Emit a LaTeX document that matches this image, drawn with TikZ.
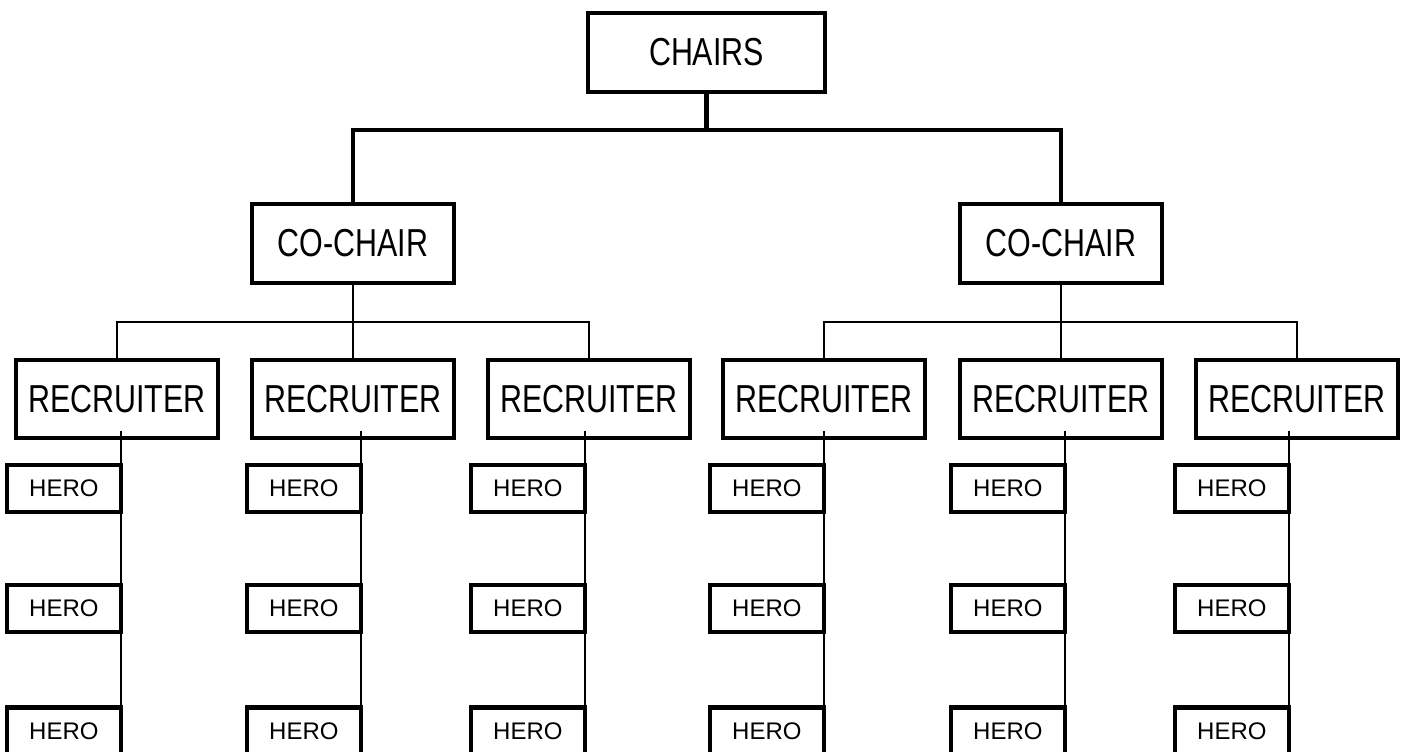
\documentclass[tikz,border=0pt]{standalone}
\usepackage{fontspec}
\setmainfont{Liberation Sans}
\newfontfamily\narrowfont[FakeStretch=0.78]{Liberation Sans}
\usepackage{tikz}

\begin{document}
\begin{tikzpicture}[x=0.5pt,y=-0.5pt,
  bigbox/.style={draw,line width=2.4pt,minimum width=101pt,minimum height=39.5pt,inner sep=0pt,font=\narrowfont\fontsize{19.5}{23}\selectfont},
  herobox/.style={draw,line width=2.1pt,minimum width=57pt,minimum height=23.5pt,inner sep=0pt,anchor=east,font=\fontsize{12}{14}\selectfont},
  thickline/.style={line width=2.4pt},
  thinline/.style={line width=1.3pt}]
\useasboundingbox (0,0) rectangle (1403,751);

% top of the tree
\node [bigbox,minimum width=118.5pt] (chairs) at (706.5,52.5) {CHAIRS};
\node [bigbox] (cc1) at (353,243.5) {CO-CHAIR};
\node [bigbox] (cc2) at (1061,243.5) {CO-CHAIR};
\coordinate (bus) at (707,130);
\draw [thickline] (chairs.south) -- (chairs.south |- bus);
\draw [thickline] (cc1.north) |- (bus) -| (cc2.north);

% recruiters
\foreach \x [count=\i] in {117,353,589,824,1061,1297}
  \node [bigbox,minimum height=39pt] (r\i) at (\x,399) {RECRUITER};
\coordinate (busl) at (353,322); \coordinate (busr) at (1061,322);
\draw [thinline] (r1.north) |- (busl) -| (r3.north); \draw [thinline] (cc1.south) -- (r2.north);
\draw [thinline] (r4.north) |- (busr) -| (r6.north); \draw [thinline] (cc2.south) -- (r5.north);

% heroes
\foreach \x [count=\i] in {121,361,585,824,1065,1289} {
  \coordinate (top\i) at (\x,431); \coordinate (end\i) at (\x,751);
  \draw [thinline] (top\i) -- (end\i);
  \foreach \y [count=\j] in {488.5,608.5,731}
    \node [herobox] (h\i\j) at (\x+2,\y) {HERO};
}

\end{tikzpicture}
\end{document}
